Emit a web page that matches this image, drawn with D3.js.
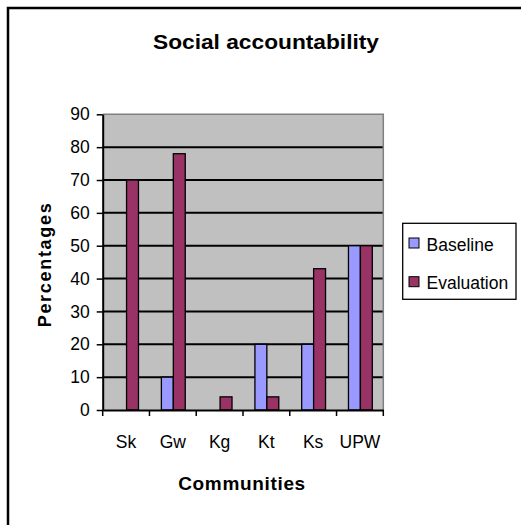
<!DOCTYPE html>
<html>
<head>
<meta charset="utf-8">
<script src="https://cdn.jsdelivr.net/npm/d3@7"></script>
<style>
  body { margin: 0; background: #fff; }
  svg text { font-family: "Liberation Sans", Arial, sans-serif; fill: #000; }
</style>
</head>
<body>
<div id="chart"></div>
<script>
// Datos
const categories = ["Sk", "Gw", "Kg", "Kt", "Ks", "UPW"];
const seriesNames = ["Baseline", "Evaluation"];
const baseline = [0, 10, 0, 20, 20, 50];
const evaluation = [70, 78, 4, 4, 43, 50];
const yTicks = [0, 10, 20, 30, 40, 50, 60, 70, 80, 90];
const colors = ["#9999ff", "#993366"];

const W = 521, H = 525;
const plot = { left: 102.7, right: 383.3, top: 114.3, bottom: 410 };

const svg = d3.select("#chart").append("svg")
  .attr("width", W).attr("height", H);

// Marco exterior (se sale por la derecha y abajo)
svg.append("rect")
  .attr("x", 8).attr("y", 8).attr("width", 700).attr("height", 700)
  .attr("fill", "none").attr("stroke", "#000").attr("stroke-width", 2.5);

// Escalas
const x = d3.scaleBand().domain(categories).range([plot.left, plot.right]).padding(0);
const bw = x.bandwidth();
const x1 = d3.scaleBand().domain(seriesNames).range([bw * 0.255, bw * 0.765]).padding(0);
const y = d3.scaleLinear().domain([0, 90]).range([plot.bottom, plot.top]);

// Fondo del área
svg.append("rect")
  .attr("x", plot.left).attr("y", plot.top)
  .attr("width", plot.right - plot.left).attr("height", plot.bottom - plot.top)
  .attr("fill", "#c0c0c0");

// Líneas de cuadrícula
svg.append("g").selectAll("line")
  .data(yTicks.filter(t => t > 0 && t < 90))
  .join("line")
  .attr("x1", plot.left).attr("x2", plot.right)
  .attr("y1", d => y(d)).attr("y2", d => y(d))
  .attr("stroke", "#000").attr("stroke-width", 2);

// Borde gris superior y derecho
svg.append("path")
  .attr("d", `M${plot.left},${plot.top}H${plot.right}V${plot.bottom}`)
  .attr("fill", "none").attr("stroke", "#808080").attr("stroke-width", 1.5);

// Barras
const rows = categories.map((c, i) => ({ cat: c, values: [baseline[i], evaluation[i]] }));
const groups = svg.append("g").selectAll("g")
  .data(rows).join("g")
  .attr("transform", d => `translate(${x(d.cat)},0)`);

groups.selectAll("rect")
  .data(d => d.values.map((v, k) => ({ key: seriesNames[k], v, k })).filter(e => e.v > 0))
  .join("rect")
  .attr("x", d => x1(d.key))
  .attr("width", x1.bandwidth())
  .attr("y", d => y(d.v))
  .attr("height", d => y(0) - y(d.v))
  .attr("fill", d => colors[d.k])
  .attr("stroke", "#000").attr("stroke-width", 1.3);

// Eje Y
const yAxis = svg.append("g")
  .attr("transform", `translate(${plot.left},0)`)
  .call(d3.axisLeft(y).tickValues(yTicks).tickSize(6).tickPadding(7).tickSizeOuter(0));
yAxis.select(".domain").attr("stroke", "#000").attr("stroke-width", 2);
yAxis.selectAll(".tick line").attr("stroke", "#000").attr("stroke-width", 1.5);
yAxis.selectAll("text").style("font-size", "17.5px").attr("font-family", null);

// Eje X
const xAxis = svg.append("g")
  .attr("transform", `translate(0,${plot.bottom})`)
  .call(d3.axisBottom(x).tickSize(0).tickPadding(26).tickSizeOuter(0));
xAxis.select(".domain").attr("stroke", "#000").attr("stroke-width", 2);
xAxis.selectAll("text").style("font-size", "17.5px").attr("font-family", null);

// Marcas en los límites de categorías
svg.append("g").selectAll("line")
  .data(categories.map(c => x(c)).concat([x.range()[1]]))
  .join("line")
  .attr("x1", d => d).attr("x2", d => d)
  .attr("y1", plot.bottom).attr("y2", plot.bottom + 6)
  .attr("stroke", "#000").attr("stroke-width", 1.5);

// Títulos
svg.append("text")
  .attr("x", 266).attr("y", 49)
  .attr("text-anchor", "middle")
  .style("font-size", "21px").style("font-weight", "bold")
  .attr("textLength", 226).attr("lengthAdjust", "spacingAndGlyphs")
  .text("Social accountability");

svg.append("text")
  .attr("x", 241.7).attr("y", 490)
  .attr("text-anchor", "middle")
  .style("font-size", "19px").style("font-weight", "bold")
  .attr("textLength", 127).attr("lengthAdjust", "spacing")
  .text("Communities");

svg.append("text")
  .attr("transform", "translate(51,265.3) rotate(-90)")
  .attr("text-anchor", "middle")
  .style("font-size", "18px").style("font-weight", "bold")
  .attr("textLength", 124).attr("lengthAdjust", "spacing")
  .text("Percentages");

// Leyenda
const legend = svg.append("g");
legend.append("rect")
  .attr("x", 402.7).attr("y", 223.3).attr("width", 113.3).attr("height", 76)
  .attr("fill", "#fff").attr("stroke", "#000").attr("stroke-width", 1.3);

const items = legend.selectAll("g.item")
  .data(seriesNames).join("g")
  .attr("class", "item")
  .attr("transform", (d, i) => `translate(409,${238 + i * 38.7})`);
items.append("rect")
  .attr("width", 10).attr("height", 10)
  .attr("fill", (d, i) => colors[i])
  .attr("stroke", "#000").attr("stroke-width", 1);
items.append("text")
  .attr("x", 17.5).attr("y", 12.5)
  .style("font-size", "17.5px")
  .text(d => d);
</script>
</body>
</html>
